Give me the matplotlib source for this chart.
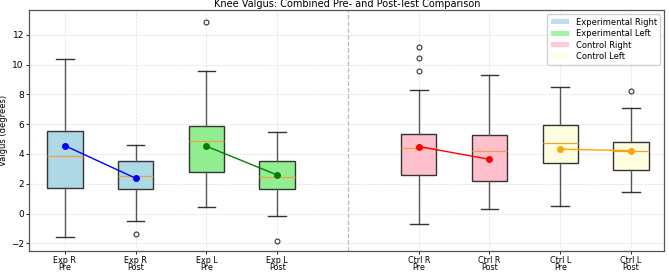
import matplotlib
matplotlib.use("Agg")
import matplotlib.pyplot as plt
from matplotlib.patches import Patch

labels = ["Exp R\nPre", "Exp R\nPost", "Exp L\nPre", "Exp L\nPost",
          "Ctrl R\nPre", "Ctrl R\nPost", "Ctrl L\nPre", "Ctrl L\nPost"]
positions = [1, 2, 3, 4, 6, 7, 8, 9]

# box stats
whislo = [-1.55, -0.5, 0.44, -0.15, -0.7, 0.33, 0.49, 1.43]
q1 = [1.73, 1.62, 2.81, 1.62, 2.59, 2.2, 3.38, 2.9]
med = [3.86, 2.5, 4.89, 2.43, 4.39, 4.19, 4.74, 4.19]
q3 = [5.53, 3.55, 5.88, 3.51, 5.33, 5.29, 5.95, 4.83]
whishi = [10.37, 4.63, 9.56, 5.5, 8.29, 9.28, 8.51, 7.07]
fliers = [[], [-1.4], [12.87], [-1.84], [11.16, 10.42, 9.6], [], [], [8.25]]
means = [4.56, 2.37, 4.52, 2.59, 4.5, 3.64, 4.32, 4.22]

box_colors = ["lightblue", "lightblue", "lightgreen", "lightgreen",
              "pink", "pink", "lightyellow", "lightyellow"]
line_colors = ["blue", "green", "red", "orange"]
legend_names = ["Experimental Right", "Experimental Left", "Control Right", "Control Left"]
legend_colors = ["lightblue", "lightgreen", "pink", "lightyellow"]

fig, ax = plt.subplots(figsize=(6.69, 2.75), dpi=100)
fig.subplots_adjust(left=0.044, right=0.993, top=0.963, bottom=0.088)

stats = []
for i in range(len(labels)):
    stats.append(dict(whislo=whislo[i], q1=q1[i], med=med[i], q3=q3[i],
                      whishi=whishi[i], fliers=fliers[i], label=labels[i]))

bp = ax.bxp(stats, positions=positions, widths=0.5, patch_artist=True,
            boxprops=dict(linewidth=1.0, edgecolor="#333333"),
            whiskerprops=dict(linewidth=1.0, color="#555555"),
            capprops=dict(linewidth=1.0, color="#333333"),
            medianprops=dict(linewidth=0.9, color="#f0a040"),
            flierprops=dict(marker="o", markersize=3.5, markerfacecolor="none",
                            markeredgecolor="#333333", markeredgewidth=0.8))
for patch, c in zip(bp["boxes"], box_colors):
    patch.set_facecolor(c)

# mean lines pre -> post
for k in range(4):
    ax.plot(positions[2 * k:2 * k + 2], means[2 * k:2 * k + 2], "o-",
            color=line_colors[k], markersize=4, linewidth=1.0, zorder=5)

ax.axvline(5, color="#bbbbbb", linestyle="--", linewidth=0.9)
ax.set_xlim(0.5, 9.47)
ax.set_ylim(-2.5, 13.65)
ax.set_xticks(positions)
ax.set_xticklabels(labels, fontsize=5.8, linespacing=0.8)
ax.tick_params(axis="y", labelsize=6.5)
ax.tick_params(length=2.5, width=0.6, pad=1.5)
ax.tick_params(axis="x", pad=1)
ax.set_ylabel("Valgus (degrees)", fontsize=6, labelpad=2)
ax.set_title("Knee Valgus: Combined Pre- and Post-Test Comparison", fontsize=7, pad=2)
ax.grid(True, linestyle="--", linewidth=0.5, alpha=0.4)
for s in ax.spines.values():
    s.set_color("#555555")
    s.set_linewidth(0.9)

handles = [Patch(facecolor=c, alpha=0.8) for c in legend_colors]
ax.legend(handles, legend_names, loc="upper right", fontsize=6,
          handlelength=2.2, handleheight=0.6, borderpad=0.4, labelspacing=0.3,
          framealpha=0.9)

fig.savefig("out.png", dpi=100)
